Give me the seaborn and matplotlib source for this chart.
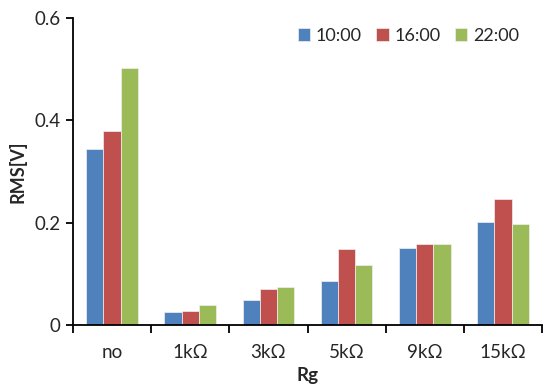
import numpy as np
import pandas as pd
import seaborn as sns
import matplotlib.pyplot as plt
from matplotlib.ticker import FixedLocator

categories = ['no', '1kΩ', '3kΩ', '5kΩ', '9kΩ', '15kΩ']
times = ['10:00', '16:00', '22:00']
rms_1000 = [0.343, 0.025, 0.048, 0.0865, 0.1496, 0.201]
rms_1600 = [0.378, 0.027, 0.070, 0.148, 0.1587, 0.2465]
rms_2200 = [0.501, 0.039, 0.0735, 0.117, 0.1574, 0.1977]

rows = []
for t, vals in zip(times, [rms_1000, rms_1600, rms_2200]):
    for c, v in zip(categories, vals):
        rows.append({'Rg': c, 'time': t, 'RMS': v})
df = pd.DataFrame(rows)

sns.set_style('white')
plt.rcParams['font.family'] = ['Lato', 'DejaVu Sans']

fig = plt.figure(figsize=(5.43, 3.90), dpi=100)
ax = fig.add_axes([0.1344, 0.1667, 0.864, 0.788])

colors = ['#4F81BD', '#C0504D', '#9BBB59']
sns.barplot(data=df, x='Rg', y='RMS', hue='time', order=categories, hue_order=times,
            palette=colors, width=0.66, gap=0, edgecolor='#f0f0f0', linewidth=0.5,
            saturation=1, ax=ax)

ax.set_xlim(-0.5, 5.5)
ax.set_ylim(0, 0.6)
ax.set_yticks([0, 0.2, 0.4, 0.6])
ax.set_yticklabels(['0', '0.2', '0.4', '0.6'])
ax.xaxis.set_minor_locator(FixedLocator(np.arange(-0.5, 6, 1)))
ax.tick_params(axis='x', which='major', length=0, pad=14, labelsize=13.5)
ax.tick_params(axis='x', which='minor', length=6, width=1.3, direction='out', color='black')
ax.tick_params(axis='y', length=5, width=1.3, direction='out', color='black', labelsize=13.5, pad=4)
ax.tick_params(left=True, bottom=True, which='both')

for s in ['top', 'right']:
    ax.spines[s].set_visible(False)
for s in ['left', 'bottom']:
    ax.spines[s].set_color('black')
    ax.spines[s].set_linewidth(1.3)

ax.set_xlabel('Rg', fontsize=13.5, fontweight='bold', labelpad=4)
ax.set_ylabel('RMS[V]', fontsize=13, fontweight='bold', labelpad=6)

ax.legend(loc='upper right', bbox_to_anchor=(0.985, 1.02), ncol=3, frameon=False,
          fontsize=13, handlelength=0.7, handleheight=0.7, handletextpad=0.3,
          columnspacing=0.8)

fig.savefig('out.png', dpi=100)
